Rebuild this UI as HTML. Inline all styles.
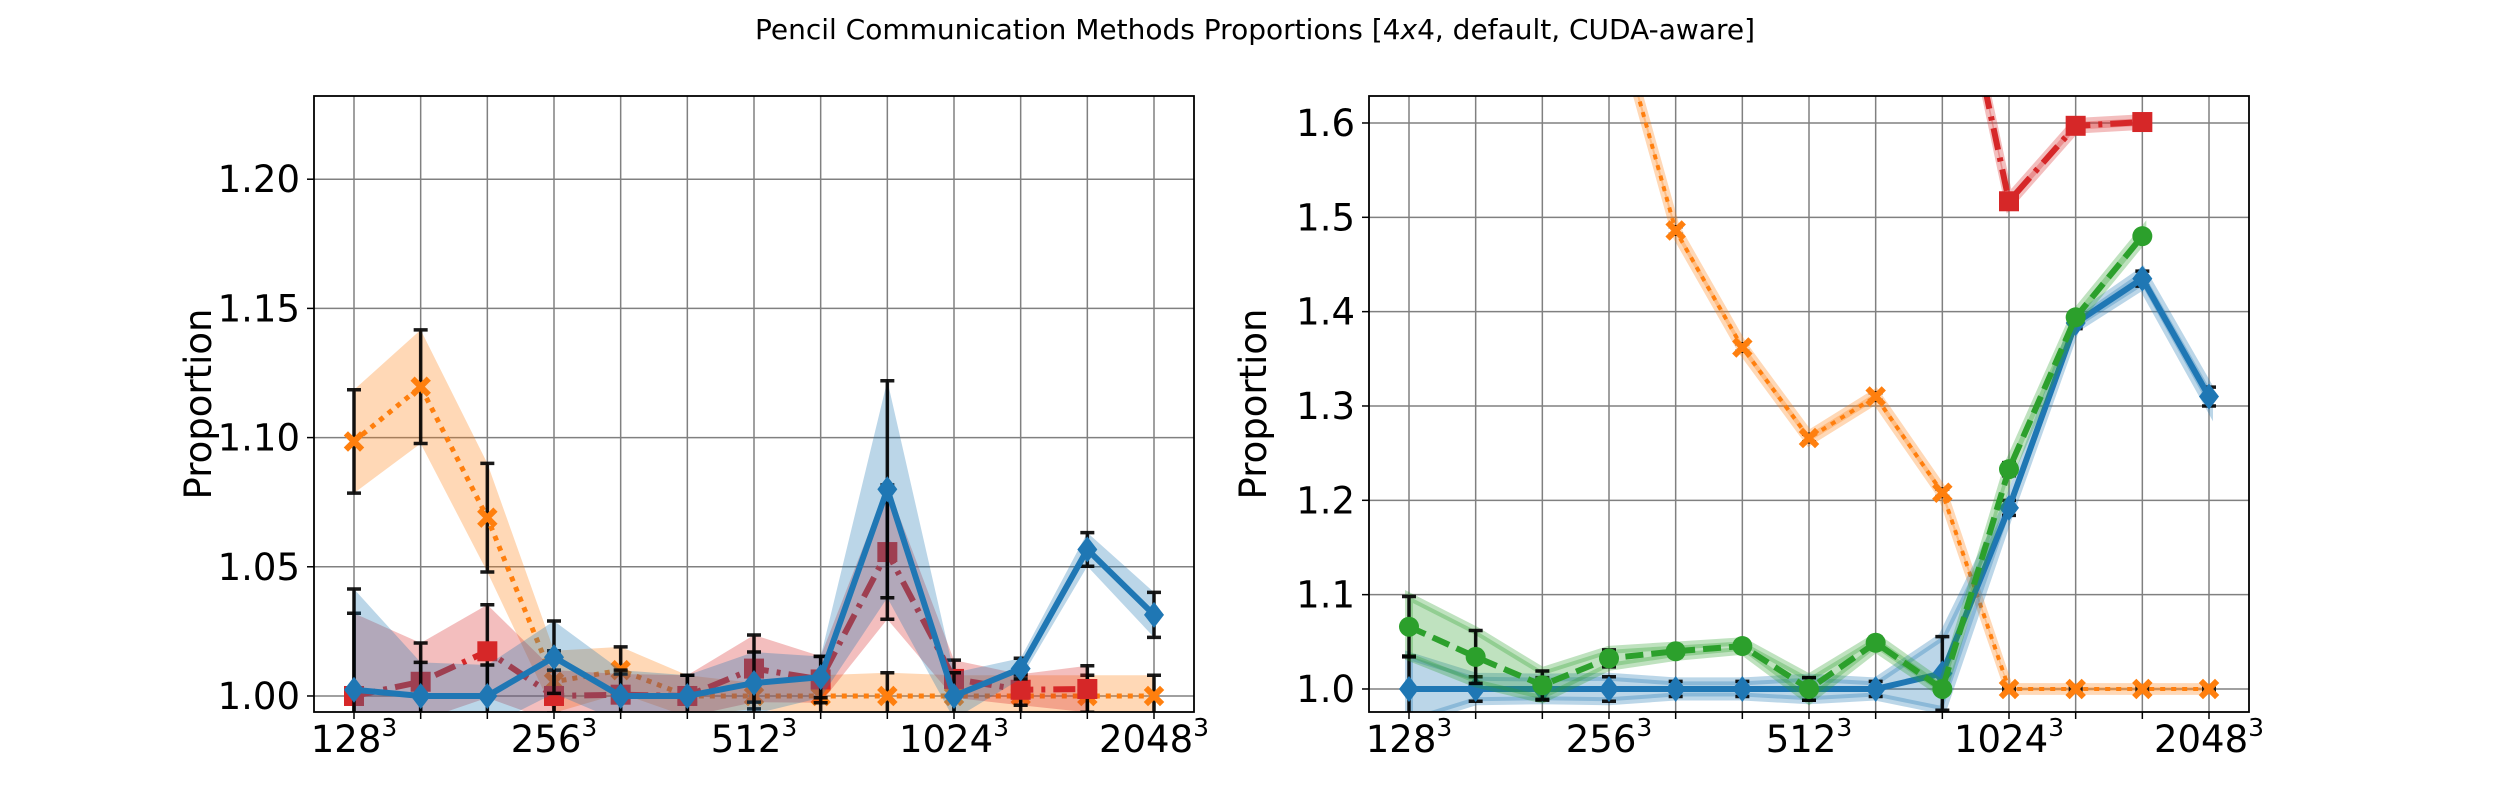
<!DOCTYPE html>
<html><head><meta charset="utf-8"><style>
html,body{margin:0;padding:0;background:#fff;}
svg{display:block;font-family:"DejaVu Sans","Liberation Sans",sans-serif;}
</style></head><body>
<svg id="fig" width="2500" height="800" viewBox="0 0 2500 800" xmlns="http://www.w3.org/2000/svg">
<text x="1255" y="39" font-size="28" text-anchor="middle">Pencil Communication Methods Proportions [4<tspan font-style="italic">x</tspan>4, default, CUDA-aware]</text>
</svg>
<script>
const categories = ["128","","","256","","","512","","","1024","","","2048"];
const leftYTicks = [1.00,1.05,1.10,1.15,1.20];
const rightYTicks = [1.0,1.1,1.2,1.3,1.4,1.5,1.6];

const leftOrange = [1.0985,1.1197,1.069,1.0055,1.010,1.000,1.000,1.000,1.000,1.000,1.000,1.000,1.000];
const leftOrangeErr = [0.020,0.022,0.021,0.012,0.009,0.008,0.005,0.008,0.009,0.008,0.008,0.008,0.008];
const leftBlue = [1.0024,1.000,1.000,1.015,1.000,1.000,1.005,1.0073,1.080,1.000,1.0106,1.0567,1.0314];
const leftBlueErr = [0.039,0.013,0.012,0.014,0.010,0.008,0.012,0.008,0.042,0.009,0.004,0.0065,0.0087];
const leftRed = [1.000,1.0055,1.0173,1.000,1.0005,1.000,1.0106,1.0064,1.0557,1.0066,1.0024,1.0027];
const leftRedErr = [0.032,0.015,0.018,0.010,0.008,0.008,0.013,0.009,0.026,0.0073,0.006,0.009];

const rightOrange = [2.0,2.0,1.9,1.74,1.486,1.362,1.266,1.310,1.208,1.000,1.000,1.000,1.000];
const rightOrangeErr = [0.004,0.004,0.004,0.004,0.004,0.004,0.004,0.004,0.004,0.002,0.002,0.002,0.002];
const rightRed = [2.2,2.2,2.2,2.2,2.2,2.2,2.2,2.2,1.85,1.517,1.597,1.601];
const rightRedErr = [0.004,0.004,0.004,0.004,0.004,0.004,0.004,0.004,0.004,0.004,0.004,0.004];
const rightGreen = [1.066,1.034,1.004,1.0325,1.040,1.0455,1.000,1.049,1.000,1.233,1.394,1.480];
const rightGreenErr = [0.032,0.028,0.015,0.009,0.006,0.005,0.012,0.006,0.005,0.007,0.005,0.005];
const rightBlue = [1.000,1.000,1.000,1.000,1.000,1.000,1.000,1.000,1.0165,1.192,1.388,1.435,1.310];
const rightBlueErr = [0.035,0.013,0.012,0.013,0.008,0.008,0.012,0.008,0.039,0.008,0.006,0.008,0.010];

const NS = "http://www.w3.org/2000/svg";
const svg = document.getElementById('fig');
function mk(tag, attrs, parent){const e=document.createElementNS(NS,tag);for(const k in attrs)e.setAttribute(k,attrs[k]);(parent||svg).appendChild(e);return e;}

const COL = {blue:"#1f77b4",orange:"#ff7f0e",red:"#d62728",green:"#2ca02c"};

function drawAxes(cfg){
  const {left,top,width,height,ymin,ymax,yticks,ydec,id} = cfg;
  const xs = i => left + 40 + i*(width-80)/12;
  const ys = v => top + height - (v-ymin)/(ymax-ymin)*height;
  const g = mk('g',{});
  
  
  const cp = mk('clipPath',{id:id+'-clip'},g);
  mk('rect',{x:left,y:top,width:width,height:height},cp);
  categories.forEach((c,i)=>{
    const l = mk('line',{x1:xs(i),x2:xs(i),y1:top,y2:top+height,stroke:"#808080","stroke-width":1.5},g);
    
    
    mk('line',{x1:xs(i),x2:xs(i),y1:top+height,y2:top+height+7,stroke:"#000","stroke-width":1.5},g);
    if(c){
      const t = mk('text',{x:xs(i),y:top+height+40,"font-size":37,"text-anchor":"middle"},g);
      
      
      t.textContent = c;
      const s = mk('tspan',{"font-size":25,dy:-16},t);
      s.textContent = "3";
    }
  });
  yticks.forEach(v=>{
    const y = ys(v);
    const l = mk('line',{x1:left,x2:left+width,y1:y,y2:y,stroke:"#808080","stroke-width":1.5},g);
    
    
    mk('line',{x1:left-7,x2:left,y1:y,y2:y,stroke:"#000","stroke-width":1.5},g);
    const t = mk('text',{x:left-14,y:y+13,"font-size":37,"text-anchor":"end"},g);
    
    
    t.textContent = v.toFixed(ydec);
  });
  const yl = mk('text',{x:0,y:0,"font-size":37,"text-anchor":"middle",transform:`translate(${left-103},${top+height/2}) rotate(-90)`},g);
  
  
  yl.textContent = "Proportion";
  const plot = mk('g',{"clip-path":`url(#${id}-clip)`},g);
  
  
  const frame = mk('rect',{x:left,y:top,width:width,height:height,fill:"none",stroke:"#000","stroke-width":1.8},g);
  
  
  return {xs,ys,plot};
}

function marker(g,kind,x,y,color){
  let e;
  if(kind==='D') e = mk('polygon',{points:`${x},${y-13} ${x+10},${y} ${x},${y+13} ${x-10},${y}`,fill:color},g);
  else if(kind==='s') e = mk('rect',{x:x-10,y:y-10,width:20,height:20,fill:color},g);
  else if(kind==='o') e = mk('circle',{cx:x,cy:y,r:10,fill:color},g);
  else { e = mk('path',{d:`M${x-6},${y-6}L${x+6},${y+6}M${x+6},${y-6}L${x-6},${y+6}`,stroke:color,"stroke-width":6,"stroke-linecap":"square"},g); }
  
  
}

function series(ax,name,vals,errs,color,dash,mk_,lw,bandOp){
  const {xs,ys,plot} = ax;
  const g = mk('g',{},plot);
  
  
  let up="",dn="";
  vals.forEach((v,i)=>{up+=`${i?'L':'M'}${xs(i)},${ys(v+errs[i])}`;});
  for(let i=vals.length-1;i>=0;i--) dn+=`L${xs(i)},${ys(vals[i]-errs[i])}`;
  const band = mk('path',{d:up+dn+'Z',fill:color,"fill-opacity":0.3,stroke:bandOp?color:"none","stroke-opacity":0.3,"stroke-width":bandOp||0},g);
  
  
  vals.forEach((v,i)=>{
    const x=xs(i),y1=ys(v+errs[i]),y2=ys(v-errs[i]);
    mk('path',{d:`M${x},${y1}L${x},${y2}M${x-7},${y1}L${x+7},${y1}M${x-7},${y2}L${x+7},${y2}`,stroke:"#000","stroke-width":3.5,"stroke-opacity":0.9},g);
  });
  const d = vals.map((v,i)=>`${i?'L':'M'}${xs(i)},${ys(v)}`).join('');
  const line = mk('path',{d:d,fill:"none",stroke:color,"stroke-width":lw,"stroke-dasharray":dash,"stroke-linejoin":"round"},g);
  
  
  vals.forEach((v,i)=>marker(g,mk_,xs(i),ys(v),color));
}

const axL = drawAxes({id:'left',left:314,top:96,width:880,height:616,ymin:0.9938,ymax:1.2322,yticks:leftYTicks,ydec:2});
series(axL,'left-orange',leftOrange,leftOrangeErr,COL.orange,"5 6",'x',5,0);
series(axL,'left-red',leftRed,leftRedErr,COL.red,"22 8 4 8",'s',6,0);
series(axL,'left-blue',leftBlue,leftBlueErr,COL.blue,"",'D',6,0);

const axR = drawAxes({id:'right',left:1369,top:96,width:880,height:616,ymin:0.9756,ymax:1.6286,yticks:rightYTicks,ydec:1});
series(axR,'right-orange',rightOrange,rightOrangeErr,COL.orange,"5 6",'x',4,8);
series(axR,'right-red',rightRed,rightRedErr,COL.red,"22 8 4 8",'s',6,8);
series(axR,'right-blue',rightBlue,rightBlueErr,COL.blue,"",'D',6,8);
series(axR,'right-green',rightGreen,rightGreenErr,COL.green,"18 8",'o',6,8);
</script>
</body></html>
